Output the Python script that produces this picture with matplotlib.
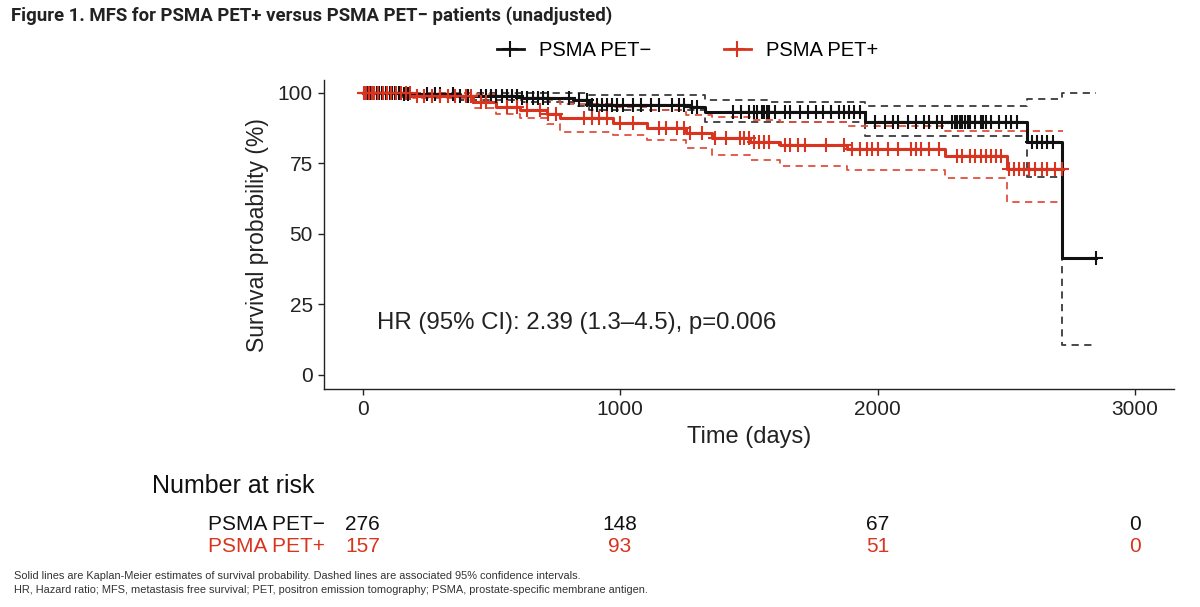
import numpy as np
import matplotlib
matplotlib.use("Agg")
import matplotlib.pyplot as plt
from matplotlib.lines import Line2D

plt.rcParams['font.family'] = ['Liberation Sans', 'DejaVu Sans']

# ---------------- data ----------------
groups = ["PSMA PET\u2212", "PSMA PET+"]

# PSMA PET- (black) KM estimate
neg_t = [0, 150, 380, 620, 820, 880, 1270, 1330, 1950, 2580, 2715, 2850]
neg_s = [100, 99.5, 99.0, 98.3, 97.5, 95.7, 95.0, 93.1, 89.8, 82.7, 41.4, 41.4]
neg_lo_t = [0, 150, 380, 620, 820, 880, 1330, 1950, 2580, 2715, 2850]
neg_lo_s = [100, 98.5, 97.6, 96.6, 95.2, 93.8, 89.6, 84.6, 70.2, 10.5, 10.5]
neg_up_t = [0, 820, 880, 1330, 1580, 1950, 2580, 2715, 2850]
neg_up_s = [100, 99.8, 99.2, 97.6, 96.6, 95.2, 97.9, 100, 100]
neg_cens = [10, 20, 30, 40, 55, 65, 75, 90, 105, 115, 125, 140, 160, 175,
            250, 280, 300, 350, 380, 410, 460, 480, 500, 520, 540, 560, 580,
            600, 620, 640, 660, 680, 700, 720, 800, 840, 870,
            890, 910, 930, 950, 970, 990, 1010, 1050, 1080, 1120, 1150, 1200,
            1230, 1250, 1280, 1300,
            1440, 1470, 1500, 1520, 1530, 1550, 1560, 1570, 1580, 1600, 1640,
            1660, 1700, 1730, 1760, 1790, 1820, 1850, 1870, 1890, 1910, 1930,
            1990, 2030, 2060, 2080, 2120, 2150, 2180, 2200, 2230, 2250, 2290,
            2300, 2310, 2320, 2330, 2340, 2350, 2360, 2380, 2400, 2410, 2420,
            2440, 2470, 2500, 2520, 2540, 2600, 2620, 2640, 2660, 2680, 2850]

# PSMA PET+ (red) KM estimate
pos_t = [0, 194, 427, 520, 610, 718, 765, 971, 1103, 1258, 1356, 1504, 1620,
         1881, 2262, 2503, 2720]
pos_s = [100, 99.0, 96.8, 95.0, 94.0, 92.5, 91.0, 89.4, 87.7, 85.9, 84.0, 82.6,
         81.6, 80.1, 77.5, 73.0, 73.0]
pos_lo_s = [100, 98.0, 94.5, 92.5, 91.0, 88.8, 86.0, 85.0, 83.3, 80.5, 78.0,
            76.2, 74.1, 72.7, 69.9, 61.3, 61.3]
pos_up_s = [100, 100, 99.6, 98.8, 98.2, 97.3, 96.0, 94.8, 93.8, 92.2, 91.6,
            90.4, 89.7, 88.3, 86.3, 86.3, 86.3]
pos_cens = [5, 15, 25, 35, 45, 60, 80, 95, 110, 130, 150, 170, 185,
            210, 240, 270, 300, 330, 360, 400, 420, 460, 480, 560, 600, 640,
            690, 720, 750, 860, 890, 920, 950, 1000, 1050, 1150, 1180, 1220,
            1250, 1270, 1320, 1370, 1410, 1465, 1480, 1500, 1520, 1540, 1560,
            1580, 1640, 1660, 1690, 1720, 1800, 1870, 1900, 1930, 1960, 1980,
            2000, 2040, 2080, 2130, 2150, 2170, 2200, 2240, 2310, 2330, 2360,
            2380, 2400, 2420, 2440, 2460, 2480, 2510, 2530, 2550, 2570, 2590,
            2610, 2640, 2660, 2690, 2715]

risk_times = [0, 1000, 2000, 3000]
risk_neg = [276, 148, 67, 0]
risk_pos = [157, 93, 51, 0]

hr_text = "HR (95% CI): 2.39 (1.3\u20134.5), p=0.006"
title = "Figure 1. MFS for PSMA PET+ versus PSMA PET\u2212 patients (unadjusted)"
foot1 = ("Solid lines are Kaplan-Meier estimates of survival probability. "
         "Dashed lines are associated 95% confidence intervals.")
foot2 = ("HR, Hazard ratio; MFS, metastasis free survival; PET, positron emission "
         "tomography; PSMA, prostate-specific membrane antigen.")

# ---------------- styles ----------------
BLACK = "#111111"
RED = "#D9341F"
RED_CI = "#E0503C"
GREY_CI = "#3a3a3a"
TXT = "#222222"


def step_value(ts, ss, x):
    ts = np.asarray(ts)
    ss = np.asarray(ss)
    idx = np.searchsorted(ts, x, side="right") - 1
    return ss[np.clip(idx, 0, len(ss) - 1)]


fig = plt.figure(figsize=(12, 6.07), dpi=100)
ax = fig.add_axes([0.270, 0.359, 0.708, 0.509])

# CIs
dash = (0, (4, 3))
ax.step(neg_lo_t, neg_lo_s, where="post", color=GREY_CI, lw=1.3, ls=dash)
ax.step(neg_up_t, neg_up_s, where="post", color=GREY_CI, lw=1.3, ls=dash)
ax.step(pos_t, pos_lo_s, where="post", color=RED_CI, lw=1.3, ls=dash)
ax.step(pos_t, pos_up_s, where="post", color=RED_CI, lw=1.3, ls=dash)

# KM curves
ax.step(neg_t, neg_s, where="post", color=BLACK, lw=2.2)
ax.step(pos_t, pos_s, where="post", color=RED, lw=2.2)

# censor marks
ax.plot(neg_cens, step_value(neg_t, neg_s, np.array(neg_cens)), ls="none",
        marker="+", ms=9.5, mew=1.5, color=BLACK)
ax.plot(pos_cens, step_value(pos_t, pos_s, np.array(pos_cens)), ls="none",
        marker="+", ms=9.5, mew=1.5, color=RED)

ax.set_xlim(-150, 3150)
ax.set_ylim(-5, 104.5)
ax.set_xticks(risk_times)
ax.set_yticks([0, 25, 50, 75, 100])
for s in ["top", "right"]:
    ax.spines[s].set_visible(False)
for s in ["left", "bottom"]:
    ax.spines[s].set_linewidth(1.0)
    ax.spines[s].set_color(TXT)
ax.tick_params(axis="both", labelsize=15, length=4, width=1.0,
               colors=TXT, labelcolor=TXT, pad=4)
ax.set_xlabel("Time (days)", fontsize=17, color=TXT, labelpad=5)
ax.set_ylabel("Survival probability (%)", fontsize=16.5, color=TXT, labelpad=6)

ax.text(54, 18.5, hr_text, fontsize=17.3, color=TXT, va="center", ha="left")

# legend
handles = [Line2D([0], [0], color=BLACK, lw=2, marker="+", ms=11, mew=1.5),
           Line2D([0], [0], color=RED, lw=2, marker="+", ms=11, mew=1.5)]
fig.legend(handles, groups, loc="center", bbox_to_anchor=(0.573, 0.917),
           ncol=2, frameon=False, fontsize=14.5, handlelength=1.35,
           columnspacing=3.6, handletextpad=0.75)

# title
fig.text(0.009, 0.975, title, fontsize=13.4, fontweight="bold",
         family=["Roboto", "DejaVu Sans"], color=TXT, va="center", ha="left")

# number at risk table (x positions via the main axis data transform)
fig.text(0.127, 1 - 486 / 607, "Number at risk", fontsize=18, color="#111111",
         va="center", ha="left")
trans = matplotlib.transforms.blended_transform_factory(ax.transData, fig.transFigure)
row_y = [1 - 525 / 607, 1 - 547 / 607]
for yy, name, vals, col in [(row_y[0], groups[0], risk_neg, "#111111"),
                            (row_y[1], groups[1], risk_pos, RED)]:
    fig.text(0.271, yy, name, fontsize=15, color=col, va="center", ha="right")
    for t, v in zip(risk_times, vals):
        ax.text(t, yy, str(v), transform=trans, fontsize=15, color=col,
                va="center", ha="center", clip_on=False)

# footnotes
fig.text(0.012, 1 - 576 / 607, foot1, fontsize=7.9, color="#333333", va="center", ha="left")
fig.text(0.012, 1 - 590 / 607, foot2, fontsize=7.9, color="#333333", va="center", ha="left")

fig.savefig("out.png", dpi=100)
